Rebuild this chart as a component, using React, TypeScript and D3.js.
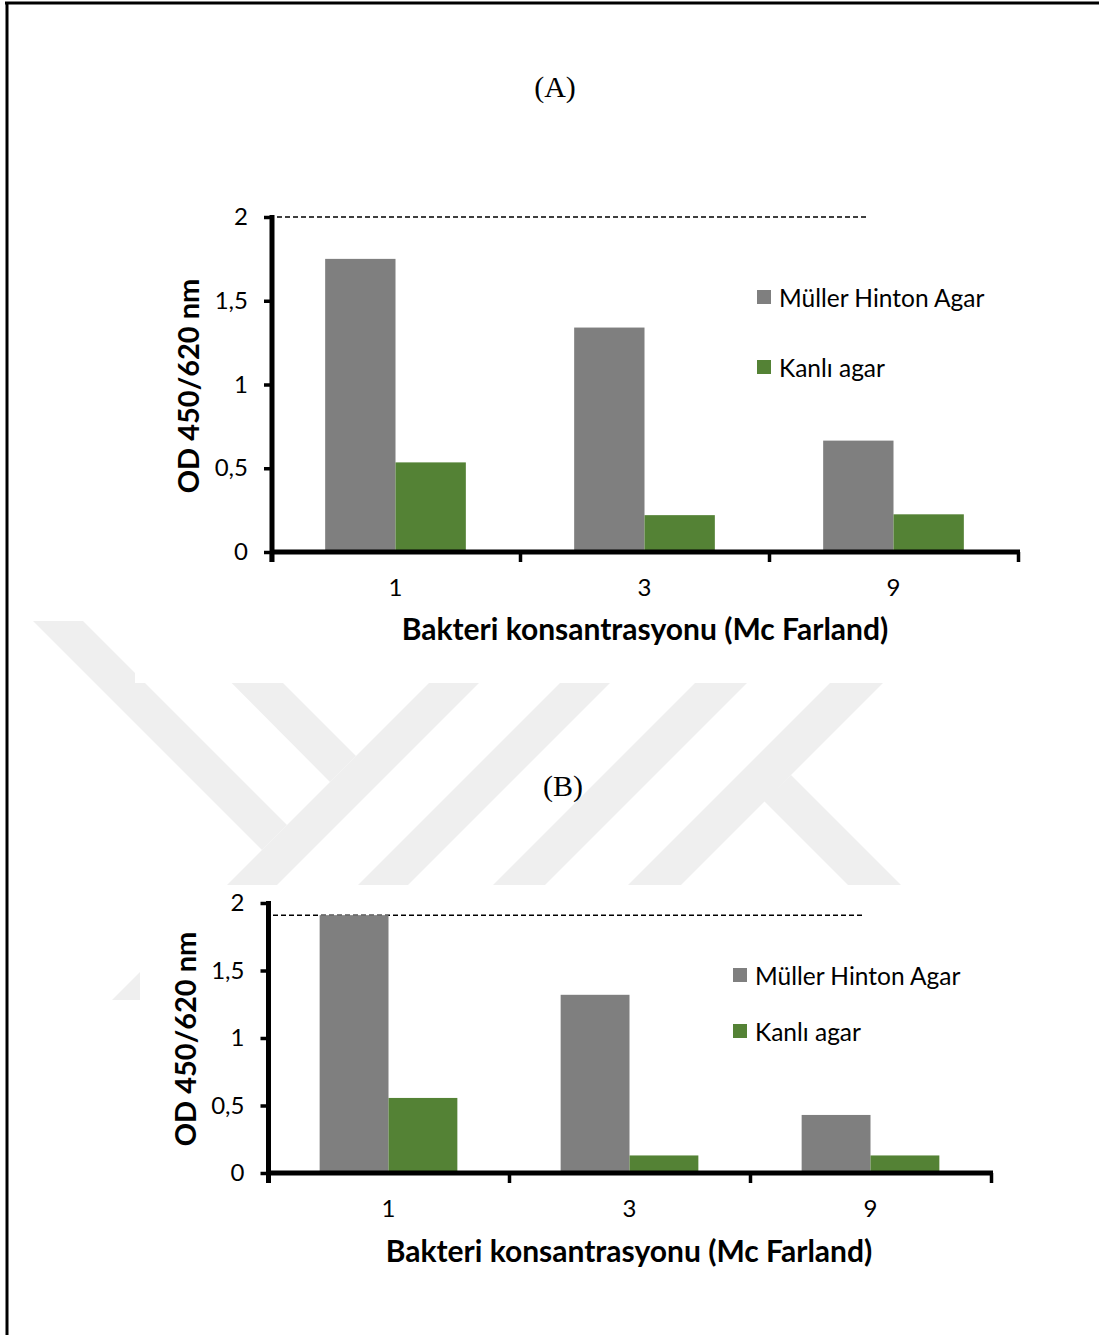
import * as d3 from "d3"
import { useEffect, useRef } from "react"

const categories = ["1", "3", "9"]
const seriesNames = ["Müller Hinton Agar", "Kanlı agar"]
const seriesColours = ["#7f7f7f", "#548235"]
const mullerA = [1.75, 1.34, 0.665]
const kanliA = [0.535, 0.22, 0.225]
const mullerB = [1.91, 1.32, 0.43]
const kanliB = [0.556, 0.13, 0.13]
const yTickValues = [0, 0.5, 1, 1.5, 2]
const refLevelA = 2
const refLevelB = 1.91
const xTitle = "Bakteri konsantrasyonu (Mc Farland)"
const yTitle = "OD 450/620 nm"

const FONT = "Lato, 'Open Sans', sans-serif"
const SERIF = "'Liberation Serif', 'Times New Roman', serif"

// layout of each panel on the page
const panels = [
  {
    title: "(A)", titleX: 555, titleY: 97,
    values: [mullerA, kanliA], refLevel: refLevelA,
    left: 271, right: 1018, zeroY: 552, twoY: 217, axisX: 272,
    gap: 1.54, refX: [277, 866],
    legendX: 757, legendY: [297, 367],
    yTitleX: 187, yTitleY: 386, xTitleX: 645, xTitleY: 640,
  },
  {
    title: "(B)", titleX: 563, titleY: 796,
    values: [mullerB, kanliB], refLevel: refLevelB,
    left: 268, right: 991, zeroY: 1173, twoY: 903, axisX: 268.5,
    gap: 1.5, refX: [273, 862],
    legendX: 733, legendY: [975, 1031],
    yTitleX: 184, yTitleY: 1039, xTitleX: 629, xTitleY: 1262,
  },
]

// faint background logo bands
const watermark = [
  [[33, 621], [83, 621], [287, 825], [262, 850]],
  [[170, 621], [221, 621], [356, 756], [330, 782]],
  [[491, 621], [541, 621], [162, 1000], [112, 1000]],
  [[622, 621], [672, 621], [393, 900], [343, 900]],
  [[757, 621], [809, 621], [530, 900], [478, 900]],
  [[892, 621], [945, 621], [666, 900], [613, 900]],
  [[764, 801], [791, 775], [916, 900], [863, 900]],
]

function drawPanel(svg: any, p: any) {
  const g = svg.append("g")

  const x = d3.scaleBand().domain(categories).range([p.left, p.right]).paddingInner(0).paddingOuter(0)
  const inner = d3
    .scaleBand()
    .domain(seriesNames)
    .range([0, x.bandwidth()])
    .paddingInner(0)
    .paddingOuter(p.gap / 2)
  const y = d3.scaleLinear().domain([0, 2]).range([p.zeroY, p.twoY])

  g.append("text")
    .attr("x", p.titleX)
    .attr("y", p.titleY)
    .attr("text-anchor", "middle")
    .attr("font-family", SERIF)
    .attr("font-size", 30)
    .text(p.title)

  // reference line
  g.append("line")
    .attr("x1", p.refX[0])
    .attr("x2", p.refX[1])
    .attr("y1", y(p.refLevel))
    .attr("y2", y(p.refLevel))
    .attr("stroke", "#000")
    .attr("stroke-width", 1.5)
    .attr("stroke-dasharray", "5,3")

  seriesNames.forEach((s, si) => {
    g.append("g")
      .selectAll("rect")
      .data(p.values[si])
      .enter()
      .append("rect")
      .attr("x", (d: number, i: number) => x(categories[i])! + inner(s)!)
      .attr("width", inner.bandwidth())
      .attr("y", (d: number) => y(d))
      .attr("height", (d: number) => y(0) - y(d))
      .attr("fill", seriesColours[si])
  })

  // y axis
  const yAxis = g
    .append("g")
    .attr("transform", `translate(${p.axisX},0)`)
    .call(
      d3
        .axisLeft(y)
        .tickValues(yTickValues)
        .tickFormat((d: any) => String(d).replace(".", ","))
        .tickSize(8)
        .tickSizeOuter(0)
        .tickPadding(16)
    )
  yAxis.select(".domain").remove()
  yAxis.selectAll(".tick line").attr("stroke-width", 3.5)
  yAxis.selectAll(".tick text").attr("font-family", FONT).attr("font-size", 24).attr("fill", "#000")

  g.append("line")
    .attr("x1", p.axisX)
    .attr("x2", p.axisX)
    .attr("y1", y(2) - 2)
    .attr("y2", y(0) + 10)
    .attr("stroke", "#000")
    .attr("stroke-width", 5)

  // x axis
  g.append("line")
    .attr("x1", p.axisX)
    .attr("x2", p.right + 2)
    .attr("y1", y(0))
    .attr("y2", y(0))
    .attr("stroke", "#000")
    .attr("stroke-width", 5)

  const edges = d3.scaleLinear().domain([0, categories.length]).range([p.left, p.right])
  const edgeAxis = g
    .append("g")
    .attr("transform", `translate(0,${y(0)})`)
    .call(
      d3
        .axisBottom(edges)
        .tickValues(d3.range(categories.length + 1))
        .tickFormat(() => "")
        .tickSize(10)
        .tickSizeOuter(0)
    )
  edgeAxis.select(".domain").remove()
  edgeAxis.selectAll(".tick line").attr("stroke-width", 3.5)

  const catAxis = g
    .append("g")
    .attr("transform", `translate(0,${y(0)})`)
    .call(d3.axisBottom(x).tickSize(0).tickPadding(27))
  catAxis.select(".domain").remove()
  catAxis.selectAll(".tick text").attr("font-family", FONT).attr("font-size", 24).attr("fill", "#000")

  // axis titles
  g.append("text")
    .attr("x", p.xTitleX)
    .attr("y", p.xTitleY)
    .attr("text-anchor", "middle")
    .attr("font-family", FONT)
    .attr("font-weight", "bold")
    .attr("font-size", 30)
    .text(xTitle)

  g.append("text")
    .attr("transform", `translate(${p.yTitleX},${p.yTitleY}) rotate(-90)`)
    .attr("text-anchor", "middle")
    .attr("dominant-baseline", "central")
    .attr("font-family", FONT)
    .attr("font-weight", "bold")
    .attr("font-size", 29)
    .text(yTitle)

  // legend
  seriesNames.forEach((s, si) => {
    const ly = p.legendY[si]
    g.append("rect")
      .attr("x", p.legendX)
      .attr("y", ly - 7)
      .attr("width", 14)
      .attr("height", 14)
      .attr("fill", seriesColours[si])
    g.append("text")
      .attr("x", p.legendX + 22)
      .attr("y", ly)
      .attr("dominant-baseline", "central")
      .attr("font-family", FONT)
      .attr("font-size", 24.5)
      .text(s)
  })
}

export default function App() {
  const ref = useRef<SVGSVGElement>(null)

  useEffect(() => {
    const svg = d3.select(ref.current)
    svg.selectAll("*").remove()

    svg.append("rect").attr("width", 1099).attr("height", 1335).attr("fill", "#fff")

    svg
      .append("g")
      .selectAll("polygon")
      .data(watermark)
      .enter()
      .append("polygon")
      .attr("points", (d: number[][]) => d.map((pt) => pt.join(",")).join(" "))
      .attr("fill", "#efefef")

    // white chart areas hide the logo behind them
    svg.append("rect").attr("x", 135).attr("y", 0).attr("width", 964).attr("height", 683).attr("fill", "#fff")
    svg.append("rect").attr("x", 140).attr("y", 885).attr("width", 959).attr("height", 450).attr("fill", "#fff")

    // page frame
    svg.append("line").attr("x1", 5).attr("x2", 1099).attr("y1", 3).attr("y2", 3).attr("stroke", "#000").attr("stroke-width", 3)
    svg.append("line").attr("x1", 7).attr("x2", 7).attr("y1", 2).attr("y2", 1335).attr("stroke", "#000").attr("stroke-width", 3)

    panels.forEach((p) => drawPanel(svg, p))
  }, [])

  return (
    <svg
      ref={ref}
      width={1099}
      height={1335}
      style={{ position: "absolute", left: 0, top: 0, display: "block" }}
    />
  )
}
